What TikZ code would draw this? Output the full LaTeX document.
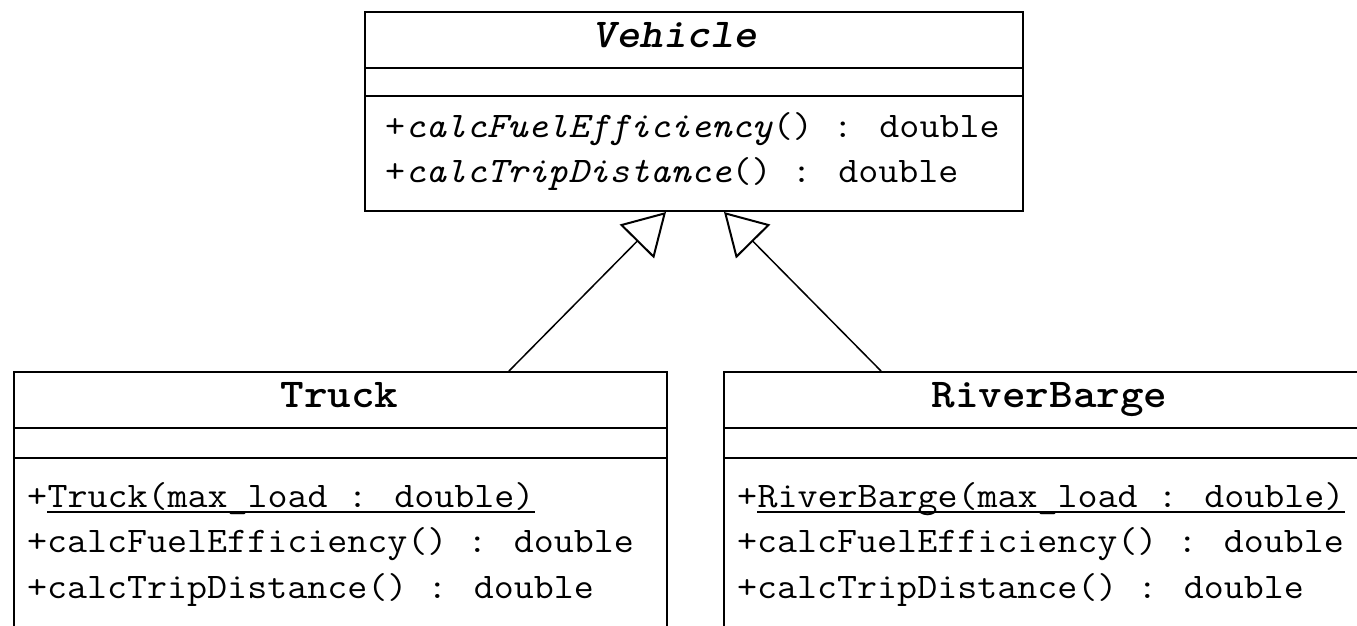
\documentclass[tikz,border=0pt]{standalone}
\usetikzlibrary{arrows.meta}
\newcommand\methtext[1]{\scalebox{1.079}[1]{#1}}
\newcommand\titletext[1]{\scalebox{1.096}[1]{#1}}
\tikzset{
  umlbox/.style={draw, line width=2pt, inner sep=0pt, anchor=north west, minimum width=#1},
  sepline/.style={line width=2pt},
  titlelbl/.style={anchor=base, inner sep=0pt, font=\fontsize{41}{45}\selectfont\ttfamily\bfseries},
  methlbl/.style={anchor=base west, inner sep=0pt, font=\fontsize{36}{40}\selectfont\ttfamily},
  uline/.style={line width=1.6pt},
  inh/.style={line width=1.5pt, -{Triangle[open, length=41.5pt, width=48pt, line width=2pt]}},
}
\begin{document}
\begin{tikzpicture}[x=1pt, y=-1pt]
\useasboundingbox (0,0) rectangle (1357,625);
\clip (0,0) rectangle (1357,625);

% Vehicle
\node[umlbox=658pt, minimum height=199pt] (veh) at (364,11) {};
\draw[sepline] ([yshift=-57pt]veh.north west) -- ([yshift=-57pt]veh.north east);
\draw[sepline] ([yshift=-85pt]veh.north west) -- ([yshift=-85pt]veh.north east);
\node[titlelbl] (vehT) at (675,47) {\titletext{\itshape Vehicle}};
\node[methlbl] (vehM1) at (385,137) {\methtext{+\textit{calcFuelEfficiency}() : double}};
\node[methlbl] (vehM2) at (385,182) {\methtext{+\textit{calcTripDistance}() : double}};

% Truck
\node[umlbox=653pt, minimum height=320pt] (truck) at (13,371) {};
\draw[sepline] ([yshift=-57pt]truck.north west) -- ([yshift=-57pt]truck.north east);
\draw[sepline] ([yshift=-87pt]truck.north west) -- ([yshift=-87pt]truck.north east);
\node[titlelbl] (truckT) at (339.5,407) {\titletext{Truck}};
\node[methlbl] (truckP) at (27,507) {\methtext{+}};
\node[methlbl] (truckC) at (truckP.base east) {\methtext{Truck(max\_load : double)}};
\draw[uline] ([yshift=-5pt]truckC.base west) -- ([yshift=-5pt]truckC.base east);
\node[methlbl] (truckM1) at (27,552) {\methtext{+calcFuelEfficiency() : double}};
\node[methlbl] (truckM2) at (27,598) {\methtext{+calcTripDistance() : double}};

% RiverBarge
\node[umlbox=653pt, minimum height=320pt] (rb) at (723,371) {};
\draw[sepline] ([yshift=-57pt]rb.north west) -- ([yshift=-57pt]rb.north east);
\draw[sepline] ([yshift=-87pt]rb.north west) -- ([yshift=-87pt]rb.north east);
\node[titlelbl] (rbT) at (1049.5,407) {\titletext{RiverBarge}};
\node[methlbl] (rbP) at (737,507) {\methtext{+}};
\node[methlbl] (rbC) at (rbP.base east) {\methtext{RiverBarge(max\_load : double)}};
\draw[uline] ([yshift=-5pt]rbC.base west) -- ([yshift=-5pt]rbC.base east);
\node[methlbl] (rbM1) at (737,552) {\methtext{+calcFuelEfficiency() : double}};
\node[methlbl] (rbM2) at (737,598) {\methtext{+calcTripDistance() : double}};

% Inheritance
\draw[inh] ([xshift=168.5pt]truck.north) -- ([xshift=-28pt]veh.south);
\draw[inh] ([xshift=-169.5pt]rb.north) -- ([xshift=30pt]veh.south);
\end{tikzpicture}
\end{document}
